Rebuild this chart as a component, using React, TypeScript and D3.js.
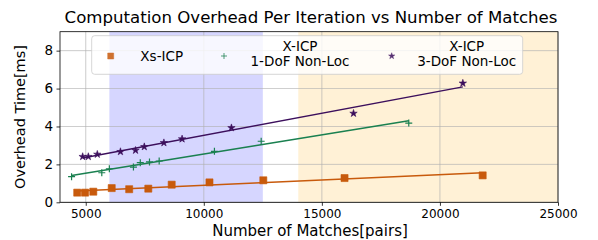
//@ts-nocheck
import * as d3 from "d3";
import { useEffect, useRef } from "react";

// Xs-ICP
const xsMatches = [4640, 4970, 5320, 6100, 6840, 7650, 8640, 10240, 12520, 15960, 21810];
const xsTime = [0.51, 0.51, 0.56, 0.75, 0.69, 0.72, 0.93, 1.05, 1.16, 1.28, 1.42];
// X-ICP 1-DoF Non-Loc
const x1Matches = [4400, 5680, 6000, 7020, 7310, 7700, 8110, 10450, 12430, 18680];
const x1Time = [1.35, 1.56, 1.77, 1.86, 2.09, 2.13, 2.18, 2.69, 3.22, 4.18];
// X-ICP 3-DoF Non-Loc
const x3Matches = [4870, 5110, 5490, 6470, 7110, 7480, 8310, 9080, 11170, 16340, 20970];
const x3Time = [2.41, 2.41, 2.53, 2.67, 2.74, 2.93, 3.14, 3.34, 3.93, 4.69, 6.28];

const xTicks = [5000, 10000, 15000, 20000, 25000];
const yTicks = [0, 2, 4, 6, 8];
// shaded ranges of matches
const bands = [[6000, 12500], [14000, 25000]];

const App = () => {
  const ref = useRef(null);

  useEffect(() => {
    const svg = d3.select(ref.current);
    svg.selectAll("*").remove();
    const W = 598, H = 240;
    const m = { left: 60, right: 40, top: 31.7, bottom: 37.7 };
    const font = "DejaVu Sans, sans-serif";

    const x = d3.scaleLinear().domain([3910, 25000]).range([m.left, W - m.right]);
    const y = d3.scaleLinear().domain([0, 9]).range([H - m.bottom, m.top]);

    const g = svg.append("g");

    // shaded bands
    const bandColors = ["rgba(0,0,255,0.16)", "rgba(255,165,0,0.16)"];
    g.selectAll("rect.band").data(bands).enter().append("rect")
      .attr("x", d => x(d[0])).attr("width", d => x(d[1]) - x(d[0]))
      .attr("y", m.top).attr("height", y(0) - m.top)
      .attr("fill", (d, i) => bandColors[i]);

    // grid
    g.selectAll("line.gx").data(xTicks).enter().append("line")
      .attr("x1", d => x(d)).attr("x2", d => x(d))
      .attr("y1", m.top).attr("y2", y(0))
      .attr("stroke", "#b0b0b0").attr("stroke-width", 0.8).attr("opacity", 0.8);
    g.selectAll("line.gy").data(yTicks).enter().append("line")
      .attr("x1", m.left).attr("x2", W - m.right)
      .attr("y1", d => y(d)).attr("y2", d => y(d))
      .attr("stroke", "#b0b0b0").attr("stroke-width", 0.8).attr("opacity", 0.8);

    const series = [
      { xs: xsMatches, ys: xsTime, color: "#c85a0c", marker: "square" },
      { xs: x1Matches, ys: x1Time, color: "#1a8050", marker: "plus" },
      { xs: x3Matches, ys: x3Time, color: "#3c0f5c", marker: "star" },
    ];

    const markerPath = (type, small) => {
      if (type === "square") return d3.symbol(d3.symbolSquare, small ? 36 : 50)();
      if (type === "plus") return small ? "M-3,0H3M0,-3V3" : "M-3.5,0H3.5M0,-3.5V3.5";
      return d3.symbol(d3.symbolStar, small ? 12 : 17)();
    };

    series.forEach(s => {
      // least-squares linear fit
      const n = s.xs.length;
      const mx = d3.mean(s.xs), my = d3.mean(s.ys);
      let num = 0, den = 0;
      for (let i = 0; i < n; i++) {
        num += (s.xs[i] - mx) * (s.ys[i] - my);
        den += (s.xs[i] - mx) ** 2;
      }
      const k = num / den, b = my - k * mx;
      const [x0, x1] = d3.extent(s.xs);
      g.append("path")
        .attr("d", d3.line()([[x(x0), y(k * x0 + b)], [x(x1), y(k * x1 + b)]]))
        .attr("stroke", s.color).attr("stroke-width", 1.5).attr("fill", "none");

      g.selectAll(null).data(s.xs).enter().append("path")
        .attr("d", markerPath(s.marker))
        .attr("transform", (d, i) => `translate(${x(d)},${y(s.ys[i])})`)
        .attr("fill", s.marker === "plus" ? "none" : s.color)
        .attr("stroke", s.color)
        .attr("stroke-width", s.marker === "plus" ? 1.2 : 0.6);
    });

    // frame
    g.append("rect")
      .attr("x", m.left).attr("y", m.top)
      .attr("width", W - m.right - m.left).attr("height", y(0) - m.top)
      .attr("fill", "none").attr("stroke", "#000").attr("stroke-width", 0.8);

    // axes
    const xAxis = d3.axisBottom(x).tickValues(xTicks).tickSize(3.5).tickPadding(3.5).tickFormat(d3.format("d"));
    const yAxis = d3.axisLeft(y).tickValues(yTicks).tickSize(3.5).tickPadding(3.5).tickFormat(d3.format("d"));
    const ax = g.append("g").attr("transform", `translate(0,${y(0)})`).call(xAxis);
    const ay = g.append("g").attr("transform", `translate(${m.left},0)`).call(yAxis);
    [ax, ay].forEach(a => {
      a.select(".domain").remove();
      a.selectAll("text").attr("font-family", font).attr("font-size", 12).attr("fill", "#000");
      a.selectAll("line").attr("stroke", "#000").attr("stroke-width", 0.8);
    });
    ay.selectAll("text").attr("font-size", 13.5);

    // labels
    svg.append("text").attr("x", 311).attr("y", 23).attr("text-anchor", "middle")
      .attr("font-family", font).attr("font-size", 16.6).text("Computation Overhead Per Iteration vs Number of Matches");
    svg.append("text").attr("x", 310).attr("y", 236).attr("text-anchor", "middle")
      .attr("font-family", font).attr("font-size", 15).text("Number of Matches[pairs]");
    svg.append("text").attr("transform", `translate(25,${(m.top + y(0)) / 2}) rotate(-90)`)
      .attr("text-anchor", "middle")
      .attr("font-family", font).attr("font-size", 14.5).text("Overhead Time[ms]");

    // legend
    const lg = svg.append("g");
    lg.append("rect").attr("x", 91.7).attr("y", 35.7).attr("width", 431).attr("height", 38.6)
      .attr("rx", 3).attr("fill", "rgba(255,255,255,0.8)").attr("stroke", "#cccccc").attr("stroke-width", 0.8);
    const legendItems = [
      { mx: 110.7, tx: 161.7, lines: ["Xs-ICP"] },
      { mx: 224, tx: 300, lines: ["X-ICP", "1-DoF Non-Loc"] },
      { mx: 391.7, tx: 466.7, lines: ["X-ICP", "3-DoF Non-Loc"] },
    ];
    legendItems.forEach((it, i) => {
      const s = series[i];
      lg.append("path").attr("d", markerPath(s.marker, true))
        .attr("transform", `translate(${it.mx},56)`)
        .attr("fill", s.marker === "plus" ? "none" : s.color)
        .attr("stroke", s.color).attr("stroke-width", s.marker === "plus" ? 0.9 : 0.5)
        .attr("opacity", 0.85);
      it.lines.forEach((t, j) => {
        const cy = it.lines.length === 1 ? 56 : 46 + j * 15.7;
        lg.append("text").attr("x", it.tx).attr("y", cy + 4.7).attr("text-anchor", "middle")
          .attr("font-family", font).attr("font-size", 13.5).text(t);
      });
    });
  }, []);

  return (
    <div style={{ position: "absolute", left: 0, top: 0 }}>
      <svg ref={ref} width={598} height={240} style={{ display: "block", background: "#fff" }}></svg>
    </div>
  );
};

export default App;
